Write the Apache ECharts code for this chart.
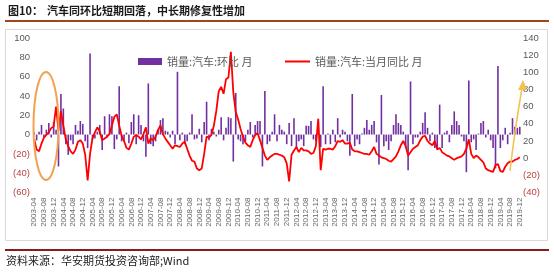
<!DOCTYPE html>
<html><head><meta charset="utf-8">
<script src="https://cdn.jsdelivr.net/npm/echarts@6/dist/echarts.min.js"></script>
<style>html,body{margin:0;padding:0;background:#fff}#c{width:554px;height:272px}</style>
</head><body><div id="c"></div>
<script>
// categories: monthly, 2003-04 .. 2019-12
const startYear = 2003, startMonth = 4, monthCount = 201;
const categories = [];
for (let k = 0; k < monthCount; k++) {
  const m = startMonth - 1 + k;
  categories.push((startYear + Math.floor(m / 12)) + '-' + String(m % 12 + 1).padStart(2, '0'));
}
// 销量:汽车:环比 (%), left axis — one row per 12 months starting 2003-04
const momValues = [
  2, -6, 3, 10, -3, 5, 12, -3, 13, 5, -33, 42,
  27, -10, -21, -6, -10, 10, 4, 14, 11, -7, -14, 84,
  -5, -4, 3, 10, -16, 19, -3, 21, 19, -15, -5, 50,
  -7, -7, 2, -9, 13, 21, -10, 20, 10, -7, -23, 53,
  -10, -12, -7, 5, 15, 17, 4, 3, -3, 4, -10, 65,
  -6, 2, -10, -7, 2, 21, -5, -4, 6, -8, 13, 34,
  -6, 6, 3, -2, 5, 18, -6, 7, 18, 17, -28, 43,
  -5, -7, -10, -7, 5, 13, -3, 10, 14, 14, -33, 45,
  -10, -7, 3, 21, -7, 10, 5, 3, -10, 12, -12, 17,
  -14, -7, -5, -12, 9, 9, 14, -5, -7, 2, -13, 50,
  -10, 1, -10, 5, -8, 17, -3, 5, 3, -7, -22, 42,
  -12, -5, -10, 1, 7, 15, 5, 10, 14, -8, -31, 41,
  -12, -7, -16, -7, 10, 21, 12, 10, 3, -14, -37, 55,
  -10, -3, -3, 3, 12, 23, 7, -7, 2, -14, -14, 31,
  -14, 2, 4, -8, 10, 24, 14, 10, -2, -7, -39, 56,
  -8, -5, -16, 1, 12, 14, -3, 5, -6, -14, -35, 71,
  -14, -6, 7, -10, 2, 17, 8, 7, 8
];
// 销量:汽车:当月同比 (%), right axis
const yoyValues = [
  22, 10, 8, 17, 24, 27, 30, 35, 37, 60, 32, 55,
  38, 22, 14, 8, 5, 10, 19, 21, 17, 4, -26, 5,
  23, 30, 36, 31, 21, 23, 25, 28, 38, 48, 51, 38,
  26, 20, 12, 10, 17, 25, 27, 25, 22, 28, 36, 17,
  23, 21, 25, 33, 38, 28, 23, 19, 15, 11, 15, 14,
  13, 17, 19, 11, 3, -3, -4, -12, -14, -12, 5, 25,
  24, 27, 38, 55, 78, 83, 75, 92, 94, 124, 77, 54,
  45, 34, 25, 18, 15, 13, 21, 27, 29, 21, 12, 3,
  -2, 1, 3, 5, 5, 4, 3, 1, -6, -27, 4, 9,
  13, 7, 12, 9, 9, 8, 5, 6, 14, 46, -14, 11,
  10, 11, 11, 10, 14, 20, 19, 21, 17, 17, 18, 10,
  8, 8, 7, 6, 5, 5, 4, 8, 13, 5, 3, 1,
  0, -1, -3, -4, -1, 2, 8, 15, 20, 14, 3, 7,
  11, 13, 15, 21, 25, 26, 20, 17, 15, 20, 10, 12,
  7, 5, 3, 2, 0, -2, 0, 1, 2, 5, 11, 22,
  5, 0, 3, 1, -2, -5, -12, -14, -15, -16, -8, -7,
  -15, -16, -10, -6, -4, -4, -2, -1, 1
];
const seriesNames = ['销量:汽车:环比 月', '销量:汽车:当月同比 月'];
const titleLead = '图10：';
const titleText = '汽车同环比短期回落，中长期修复性增加';
const sourceText = '资料来源：华安期货投资咨询部;Wind';

const CJK = '"Noto Sans CJK SC", "Liberation Sans", sans-serif';
const NUM = '"Liberation Sans", Arial, sans-serif';
const fmt = v => v < 0 ? '{neg|(' + (-v) + ')}' : '{pos|' + v + '}';
const rich = {
  pos: { color: '#595959', fontSize: 9.5, fontFamily: NUM },
  neg: { color: '#B8433F', fontSize: 9.5, fontFamily: NUM }
};

const chart = echarts.init(document.getElementById('c'), null, { renderer: 'canvas' });
chart.setOption({
  animation: false,
  backgroundColor: '#fff',
  grid: { left: 33, right: 33, top: 38, bottom: 79.5, containLabel: false },
  legend: [
    { data: [seriesNames[0]], left: 133, top: 51, itemWidth: 24, itemHeight: 7, icon: 'rect',
      textStyle: { color: '#595959', fontSize: 11, fontFamily: CJK } },
    { data: [seriesNames[1]], left: 280, top: 51, itemWidth: 25, itemHeight: 2, icon: 'rect',
      itemStyle: { color: '#FF0000' },
      textStyle: { color: '#595959', fontSize: 11, fontFamily: CJK } }
  ],
  xAxis: {
    type: 'category', data: categories, boundaryGap: true,
    axisLine: { show: false }, axisTick: { show: false },
    axisLabel: { interval: 3, rotate: 90, margin: 5, color: '#666', fontSize: 8, fontFamily: NUM }
  },
  yAxis: [
    { type: 'value', min: -60, max: 100, interval: 20, position: 'left',
      splitLine: { show: false }, axisLine: { show: false }, axisTick: { show: false },
      axisLabel: { margin: 3, formatter: fmt, rich } },
    { type: 'value', min: -40, max: 140, interval: 20, position: 'right',
      splitLine: { show: false }, axisLine: { show: false }, axisTick: { show: false },
      axisLabel: { margin: 2, formatter: fmt, rich } }
  ],
  series: [
    { name: seriesNames[0], type: 'bar', yAxisIndex: 0, data: momValues,
      barWidth: 1.6, itemStyle: { color: '#7030A0' }, z: 2 },
    { name: seriesNames[1], type: 'line', yAxisIndex: 1, data: yoyValues,
      symbol: 'none', lineStyle: { color: '#FF0000', width: 1.8 }, itemStyle: { color: '#FF0000' }, z: 3 }
  ],
  graphic: [
    { type: 'text', left: 8, top: 5, style: { text: titleLead, font: 'bold 11px ' + CJK, fill: '#1a1a1a' } },
    { type: 'text', left: 47, top: 5, style: { text: titleText, font: 'bold 11px ' + CJK, fill: '#1a1a1a' } },
    { type: 'line', shape: { x1: 5, y1: 21, x2: 549, y2: 21 }, style: { stroke: '#A0461E', lineWidth: 2 } },
    { type: 'rect', shape: { x: 5.5, y: 29.5, width: 542, height: 211 }, style: { fill: 'none', stroke: '#D9D9D9', lineWidth: 1 } },
    { type: 'line', shape: { x1: 5, y1: 250, x2: 549, y2: 250 }, style: { stroke: '#8B1A1A', lineWidth: 2 } },
    { type: 'text', left: 6, top: 255, style: { text: sourceText, font: '11px ' + CJK, fill: '#222' } },
    { type: 'ellipse', shape: { cx: 46, cy: 126, rx: 12.5, ry: 54 }, style: { fill: 'none', stroke: '#F3A350', lineWidth: 2 }, z: 10 },
    { type: 'bezierCurve', shape: { x1: 510, y1: 171, cpx1: 514, cpy1: 135, x2: 522, y2: 88 }, style: { fill: 'none', stroke: '#F2C14E', lineWidth: 1.5 }, z: 10 },
    { type: 'polygon', shape: { points: [[523, 80], [518, 90], [527, 90]] }, style: { fill: '#F2C14E' }, z: 10 }
  ]
});
</script></body></html>
